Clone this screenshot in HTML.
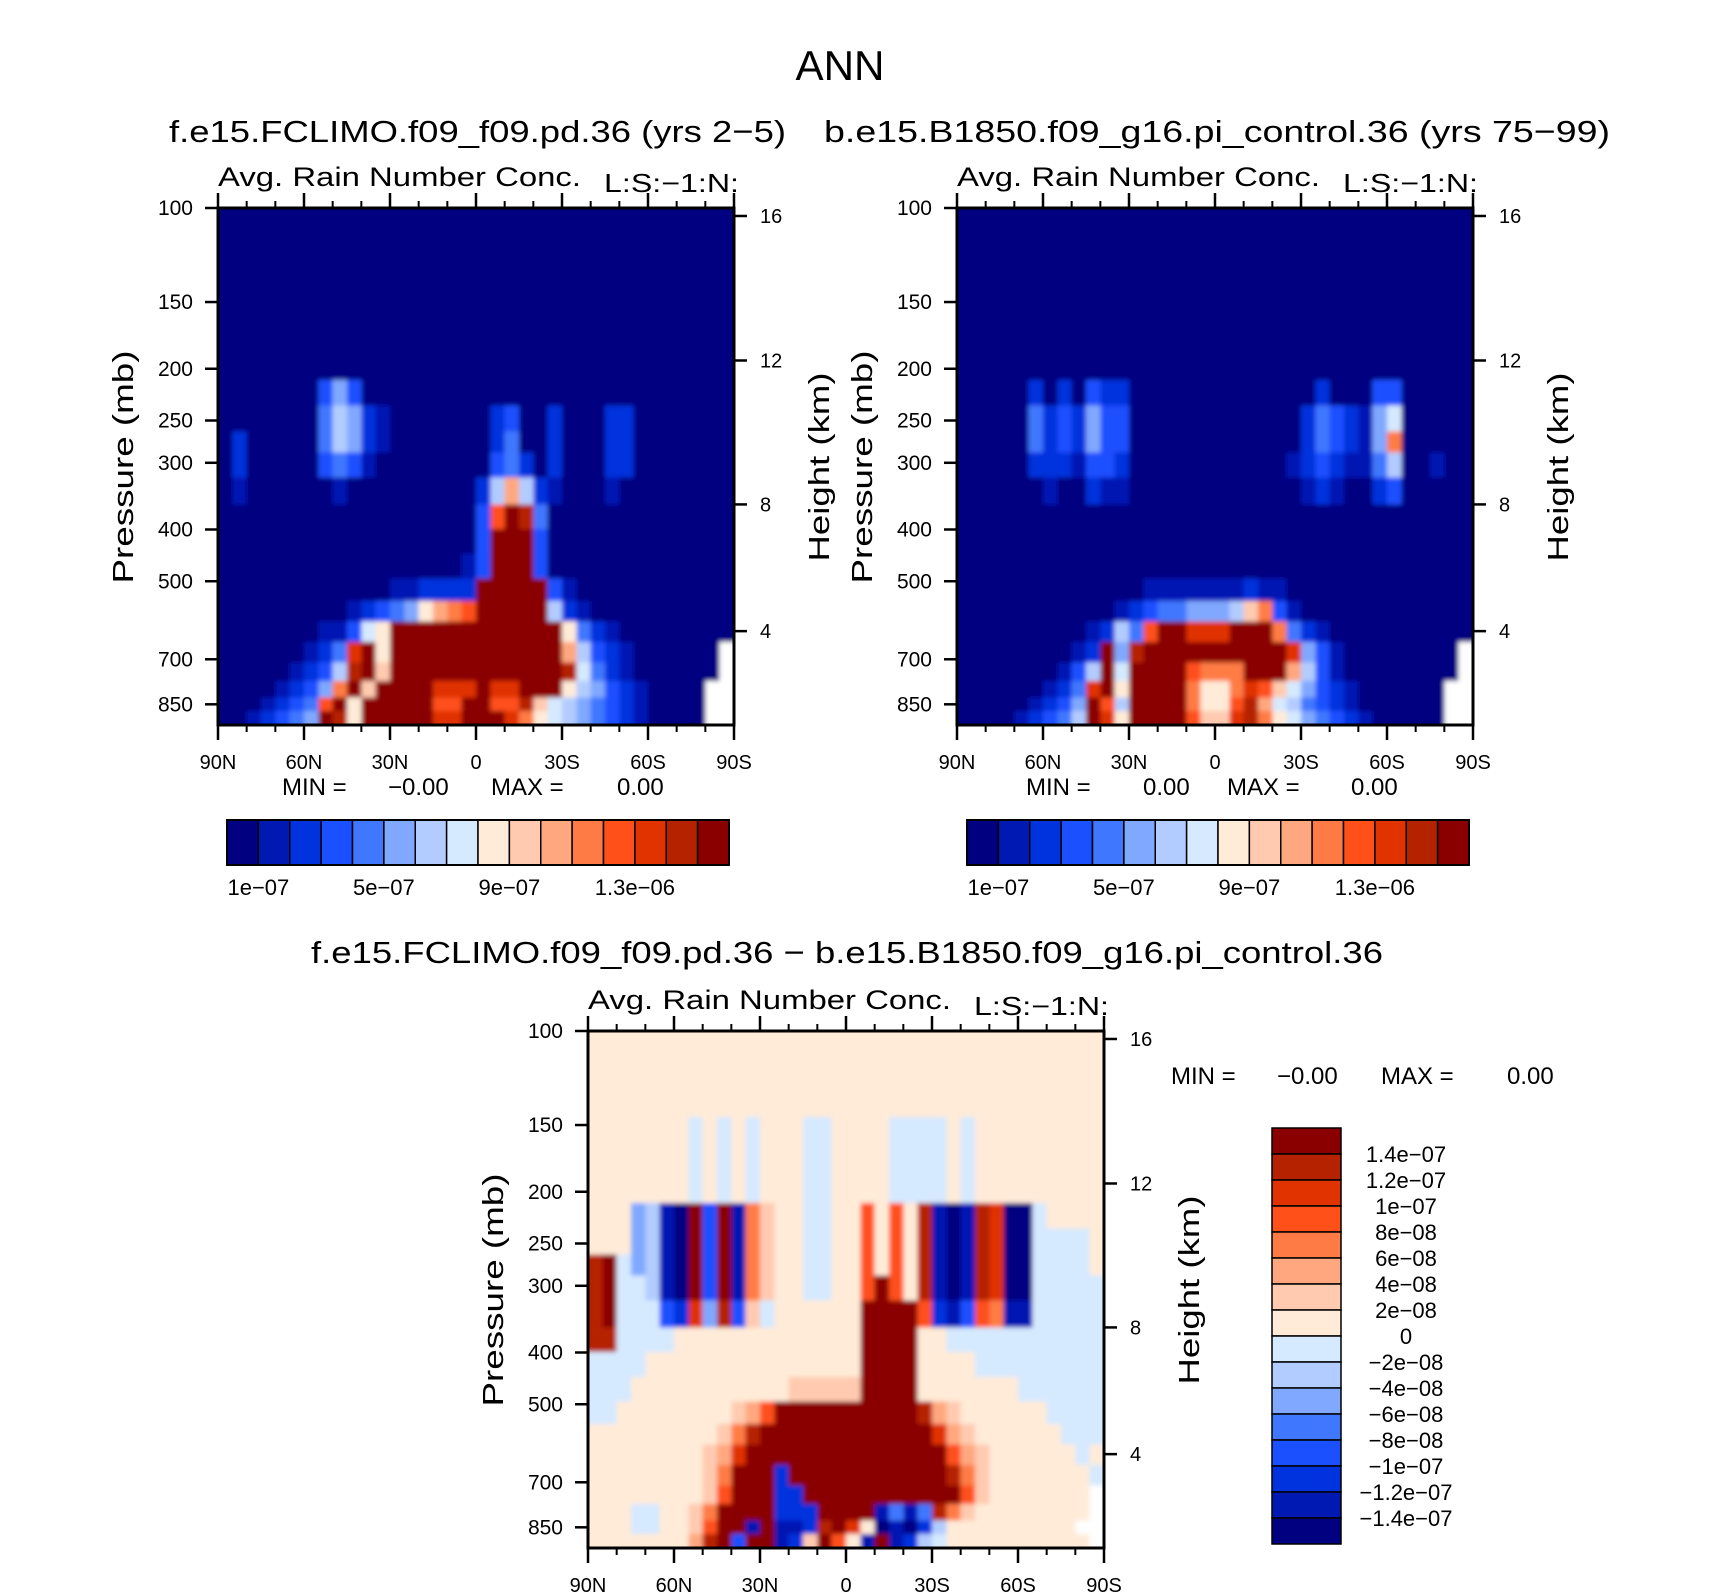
<!DOCTYPE html>
<html><head><meta charset="utf-8"><title>ANN Avg. Rain Number Conc.</title>
<style>
html,body{margin:0;padding:0;background:#fff;}
svg{display:block;font-family:"Liberation Sans",sans-serif;}
</style></head>
<body>
<svg id="fig" xmlns="http://www.w3.org/2000/svg" width="1710" height="1596" viewBox="0 0 1710 1596">
<defs><filter id="soft" x="-5%" y="-5%" width="110%" height="110%"><feGaussianBlur stdDeviation="2.5"/></filter></defs>
<rect x="0" y="0" width="1710" height="1596" fill="#fff"/>
<text x="840" y="80" text-anchor="middle" font-size="42" textLength="89" lengthAdjust="spacingAndGlyphs">ANN</text>
<text x="169" y="142" font-size="31" textLength="617" lengthAdjust="spacingAndGlyphs">f.e15.FCLIMO.f09_f09.pd.36 (yrs 2−5)</text>
<text x="824" y="142" font-size="31" textLength="786" lengthAdjust="spacingAndGlyphs">b.e15.B1850.f09_g16.pi_control.36 (yrs 75−99)</text>
<text x="311" y="963" font-size="31" textLength="1072" lengthAdjust="spacingAndGlyphs">f.e15.FCLIMO.f09_f09.pd.36 − b.e15.B1850.f09_g16.pi_control.36</text>
<g id="layer"></g>
</svg>
<script>
const palette = ["#000080","#0019b3","#0033dd","#1a50ff","#4077ff","#80a8ff","#b3ccff","#d5e9ff","#ffebd8","#ffcab0","#ffa880","#ff7b45","#ff501a","#e03300","#b52200","#8a0000"];
const pressureLevels = [100,110,120,130,140,150,165,180,200,220,250,275,300,340,380,420,470,520,570,620,680,740,800,850,900];
const latCenters = [87.5,82.5,77.5,72.5,67.5,62.5,57.5,52.5,47.5,42.5,37.5,32.5,27.5,22.5,17.5,12.5,7.5,2.5,-2.5,-7.5,-12.5,-17.5,-22.5,-27.5,-32.5,-37.5,-42.5,-47.5,-52.5,-57.5,-62.5,-67.5,-72.5,-77.5,-82.5,-87.5];
const pressureTicks = [100,150,200,250,300,400,500,700,850];
const latTicks = [90,60,30,0,-30,-60,-90];
const latTickLabels = ["90N","60N","30N","0","30S","60S","90S"];
const latMinorTicks = [80,70,50,40,20,10,-10,-20,-40,-50,-70,-80];
const heightTicks = ["16","12","8","4"];
const heightTickPressures = [103.5,193,359,620];
const cbarLabels12 = ["1e−07","5e−07","9e−07","1.3e−06"];
const cbarLabelIdx12 = [1,5,9,13];
const cbarLabelsDiff = ["1.4e−07","1.2e−07","1e−07","8e−08","6e−08","4e−08","2e−08","0","−2e−08","−4e−08","−6e−08","−8e−08","−1e−07","−1.2e−07","−1.4e−07"];
const Z = "000000000000000000000000000000000000";
const E = "888888888888888888888888888888888888";
const panel1Rows = [Z,Z,Z,Z,Z,Z,Z,Z,Z,
"0000000353"+"00000000000000000000000000",
"000000046521"+"0000000"+"23"+"00"+"2"+"000"+"22"+"0000000",
"020000046521"+"0000000"+"24"+"00"+"2"+"000"+"22"+"0000000",
"020000034310"+"0000000"+"342"+"0"+"2"+"000"+"22"+"0000000",
"010000001000000000"+"26a621"+"000"+"1"+"00000000",
"000000000000000000"+"3cfe4"+"0000000000000",
"000000000000000000"+"3fff3"+"0000000000000",
"000000000000000001"+"3fff3"+"0000000000000",
"000000000000"+"112222"+"fffff"+"31"+"00000000000",
"000000000"+"12345"+"8abc"+"fffff"+"621"+"0000000000",
"0000000"+"11378"+"ffffffffffff"+"8421"+"00000000",
"000000"+"124df8"+"ffffffffffff"+"a6321"+"000000"+".",
"00000"+"1236ef9"+"ffffffffffff"+"e7421"+"000000"+".",
"0000"+"1235bf9"+"ffff"+"ddd"+"f"+"dd"+"fff"+"865321"+"0000"+"..",
"000"+"1234cf8"+"fffff"+"cc"+"ff"+"cc"+"e9765432"+"1"+"0000"+"..",
"00"+"12345fe8"+"fffff"+"dd"+"fff"+"db87654321"+"0000"+".."];
const panel2Rows = [Z,Z,Z,Z,Z,Z,Z,Z,Z,
"000002020322"+"0000000000000"+"2"+"000"+"33"+"00000",
"00000"+"4232533"+"000000000000"+"243215"+"7"+"00000",
"00000"+"4232533"+"000000000000"+"243215"+"b"+"00000",
"00000"+"2221332"+"00000000000"+"123211"+"46"+"00"+"1"+"00",
"000000"+"1002110"+"00000000000"+"121"+"00"+"23"+"00000",
Z,Z,Z,
"0000000000000"+"1111111211"+"0000000000000",
"00000000000"+"123445556"+"9b31"+"000000000000",
"000000000"+"1264c"+"ff"+"ddd"+"fff"+"b421"+"0000000000",
"00000000"+"12f5e"+"ffffffffff"+"d531"+"00000000"+".",
"0000000"+"136f7"+"ffff"+"c"+"bbb"+"fff"+"a631"+"00000000"+".",
"000000"+"124df8"+"ffff"+"b88bdc97"+"5321"+"000000"+"..",
"00000"+"1235fc6"+"ffff"+"b88cea76"+"4321"+"000000"+"..",
"0000"+"12346fd8"+"ffff"+"c99deb87"+"54321"+"00000"+".."];
const d5 = "888888878787"+"888"+"77"+"8888"+"7777"+"87"+"888888888";
const panel3Rows = [E,E,E,E,E,d5,d5,d5,d5,
"888"+"56"+"10f3f1b9"+"88778"+"8c8c8"+"e101ed00"+"7"+"8888",
"888"+"56"+"10f3f1b9"+"88778"+"8c8c8"+"e101ed00"+"7"+"7778",
"ef7"+"56"+"10f3f1b9"+"88778"+"8c8c8"+"e101ed00"+"7"+"7778",
"ef7"+"76"+"10f3f1b9"+"88778"+"8cfc8"+"e101ed00"+"7"+"7777",
"ef777"+"32d5e397"+"88888"+"8ffff"+"c213cb11"+"77777",
"ee"+"7777"+"8888888888888"+"ffff"+"88"+"77777777777",
"7777"+"888888888888888"+"ffff"+"8888"+"777777777",
"777"+"88888888888"+"99999"+"ffff"+"8888888"+"777777",
"77"+"88888888"+"9"+"a"+"c"+"ffffffffff"+"e"+"a"+"9"+"888888"+"7777",
"888888888"+"9"+"b"+"e"+"ffffffffffff"+"d"+"a"+"9"+"888888"+"777",
"88888888"+"9"+"a"+"d"+"f"+"fffffffffffff"+"c"+"a"+"9"+"888888"+"7"+"8",
"88888888"+"9"+"b"+"fff"+"2"+"fffffffffff"+"e"+"b"+"9"+"8888888"+"7",
"88888888"+"9c"+"fff"+"22"+"fffffffffff"+"c9"+"8888888"+".",
"888"+"77"+"88"+"9"+"b"+"ffff"+"222"+"ffff"+"1"+"4"+"1"+"4"+"e"+"b"+"9"+"88888888"+".",
"888"+"77"+"88"+"9cff1f112efd801026"+"888888888"+"..",
"8888888"+"aef3ff129fc81f1267"+"8888888888"+"."];

const NS = "http://www.w3.org/2000/svg";
const layer = document.getElementById("layer");
const W = 516, H = 517, K = 534;
const panels = [
  {x:218, y:208, rows:panel1Rows, id:"panel1"},
  {x:957, y:208, rows:panel2Rows, id:"panel2"},
  {x:588, y:1031, rows:panel3Rows, id:"diff-panel"}
];
function mk(tag, attrs, parent){
  const el = document.createElementNS(NS, tag);
  for (const k in attrs) el.setAttribute(k, attrs[k]);
  (parent||layer).appendChild(el);
  return el;
}
function xScale(p, lat){ return p.x + (90 - lat) / 180 * W; }
function yScale(p, pr){ return p.y + K * Math.log10(pr / 100); }
function txt(str, attrs, parent){ const t = mk("text", attrs, parent); t.textContent = str; return t; }

panels.forEach(function(p, pi){
  const clipId = "clip" + pi;
  const cp = mk("clipPath", {id: clipId});
  mk("rect", {x:p.x, y:p.y, width:W, height:H}, cp);
  const g = mk("g", {"clip-path":"url(#"+clipId+")"});
  
  
  const cells = mk("g", {"shape-rendering":"crispEdges", filter:"url(#soft)"}, g);
  const n = pressureLevels.length;
  const last = latCenters.length - 1;
  for (let i = 0; i < n; i++) {
    const yc = yScale(p, pressureLevels[i]);
    const yt = i === 0 ? p.y - 12 : (yScale(p, pressureLevels[i-1]) + yc) / 2;
    const yb = i === n-1 ? p.y + H + 12 : (yc + yScale(p, pressureLevels[i+1])) / 2;
    const row = p.rows[i];
    for (let j = 0; j <= last; j++) {
      const ch = row[j];
      let x0 = xScale(p, latCenters[j] + 2.5), x1 = xScale(p, latCenters[j] - 2.5);
      if (j === 0) x0 -= 12;
      if (j === last) x1 += 12;
      const fill = ch === "." ? "#ffffff" : palette[parseInt(ch, 16)];
      const r = mk("rect", {x:x0.toFixed(2), y:yt.toFixed(2), width:(x1-x0+0.6).toFixed(2), height:(yb-yt+0.6).toFixed(2), fill:fill}, cells);
      
      
    }
  }
  const fr = mk("rect", {x:p.x, y:p.y, width:W, height:H, fill:"none", stroke:"#000", "stroke-width":3});
  
  
  pressureTicks.forEach(function(pr){
    const y = yScale(p, pr);
    const t = mk("line", {x1:p.x-13, x2:p.x, y1:y, y2:y, stroke:"#000", "stroke-width":2.5});
    
    
    const l = txt(String(pr), {x:p.x-25, y:y+7, "text-anchor":"end", "font-size":21});
    
    
  });
  heightTicks.forEach(function(h, k){
    const y = yScale(p, heightTickPressures[k]);
    const t = mk("line", {x1:p.x+W, x2:p.x+W+13, y1:y, y2:y, stroke:"#000", "stroke-width":2.5});
    
    
    const l = txt(h, {x:p.x+W+26, y:y+7, "font-size":20});
    
    
  });
  latTicks.forEach(function(lat, k){
    const x = xScale(p, lat);
    const t1 = mk("line", {x1:x, x2:x, y1:p.y-15, y2:p.y, stroke:"#000", "stroke-width":2.5});
    
    
    const t2 = mk("line", {x1:x, x2:x, y1:p.y+H, y2:p.y+H+15, stroke:"#000", "stroke-width":2.5});
    
    
    const l = txt(latTickLabels[k], {x:x, y:p.y+H+44, "text-anchor":"middle", "font-size":20});
    
    
  });
  latMinorTicks.forEach(function(lat){
    const x = xScale(p, lat);
    const t1 = mk("line", {x1:x, x2:x, y1:p.y-7, y2:p.y, stroke:"#000", "stroke-width":2});
    
    
    const t2 = mk("line", {x1:x, x2:x, y1:p.y+H, y2:p.y+H+7, stroke:"#000", "stroke-width":2});
    
    
  });
  const a = txt("Avg. Rain Number Conc.", {x:p.x, y:p.y-22, "font-size":27, textLength:363, lengthAdjust:"spacingAndGlyphs"});
  
  
  const ls = txt("L:S:−1:N:", {x:p.x+386, y:p.y-16, "font-size":26, textLength:135, lengthAdjust:"spacingAndGlyphs"});
  
  
  const cy = p.y + 259;
  const pl = txt("Pressure (mb)", {x:0, y:0, "font-size":29, "text-anchor":"middle", textLength:233, lengthAdjust:"spacingAndGlyphs", transform:"translate("+(p.x-85)+","+cy+") rotate(-90)"});
  
  
  const hl = txt("Height (km)", {x:0, y:0, "font-size":29, "text-anchor":"middle", textLength:189, lengthAdjust:"spacingAndGlyphs", transform:"translate("+(p.x+W+95)+","+cy+") rotate(-90)"});
  
  
});

const statsLines = [
  {y:795, items:[["MIN =",282],["−0.00",388],["MAX =",491],["0.00",617]]},
  {y:795, items:[["MIN =",1026],["0.00",1143],["MAX =",1227],["0.00",1351]]},
  {y:1084, items:[["MIN =",1171],["−0.00",1277],["MAX =",1381],["0.00",1507]]}
];
statsLines.forEach(function(s){
  s.items.forEach(function(it){
    const t = txt(it[0], {x:it[1], y:s.y, "font-size":24});
    
    
  });
});

[227, 967].forEach(function(x0){
  const w = 502 / 16;
  for (let i = 0; i < 16; i++) {
    const r = mk("rect", {x:x0 + i*w, y:820, width:w, height:45, fill:palette[i], stroke:"#000", "stroke-width":1.5});
    
    
  }
  const f = mk("rect", {x:x0, y:820, width:502, height:45, fill:"none", stroke:"#000", "stroke-width":2});
  
  
  cbarLabels12.forEach(function(lab, k){
    const t = txt(lab, {x:x0 + cbarLabelIdx12[k]*w, y:895, "text-anchor":"middle", "font-size":22});
    
    
  });
});

(function(){
  const x0 = 1272, y0 = 1128, bw = 69, bh = 26;
  for (let i = 0; i < 16; i++) {
    const r = mk("rect", {x:x0, y:y0 + i*bh, width:bw, height:bh, fill:palette[15-i], stroke:"#000", "stroke-width":1.5});
    
    
  }
  cbarLabelsDiff.forEach(function(lab, k){
    const t = txt(lab, {x:1406, y:y0 + (k+1)*bh + 8, "text-anchor":"middle", "font-size":22});
    
    
  });
})();
</script>
</body></html>
